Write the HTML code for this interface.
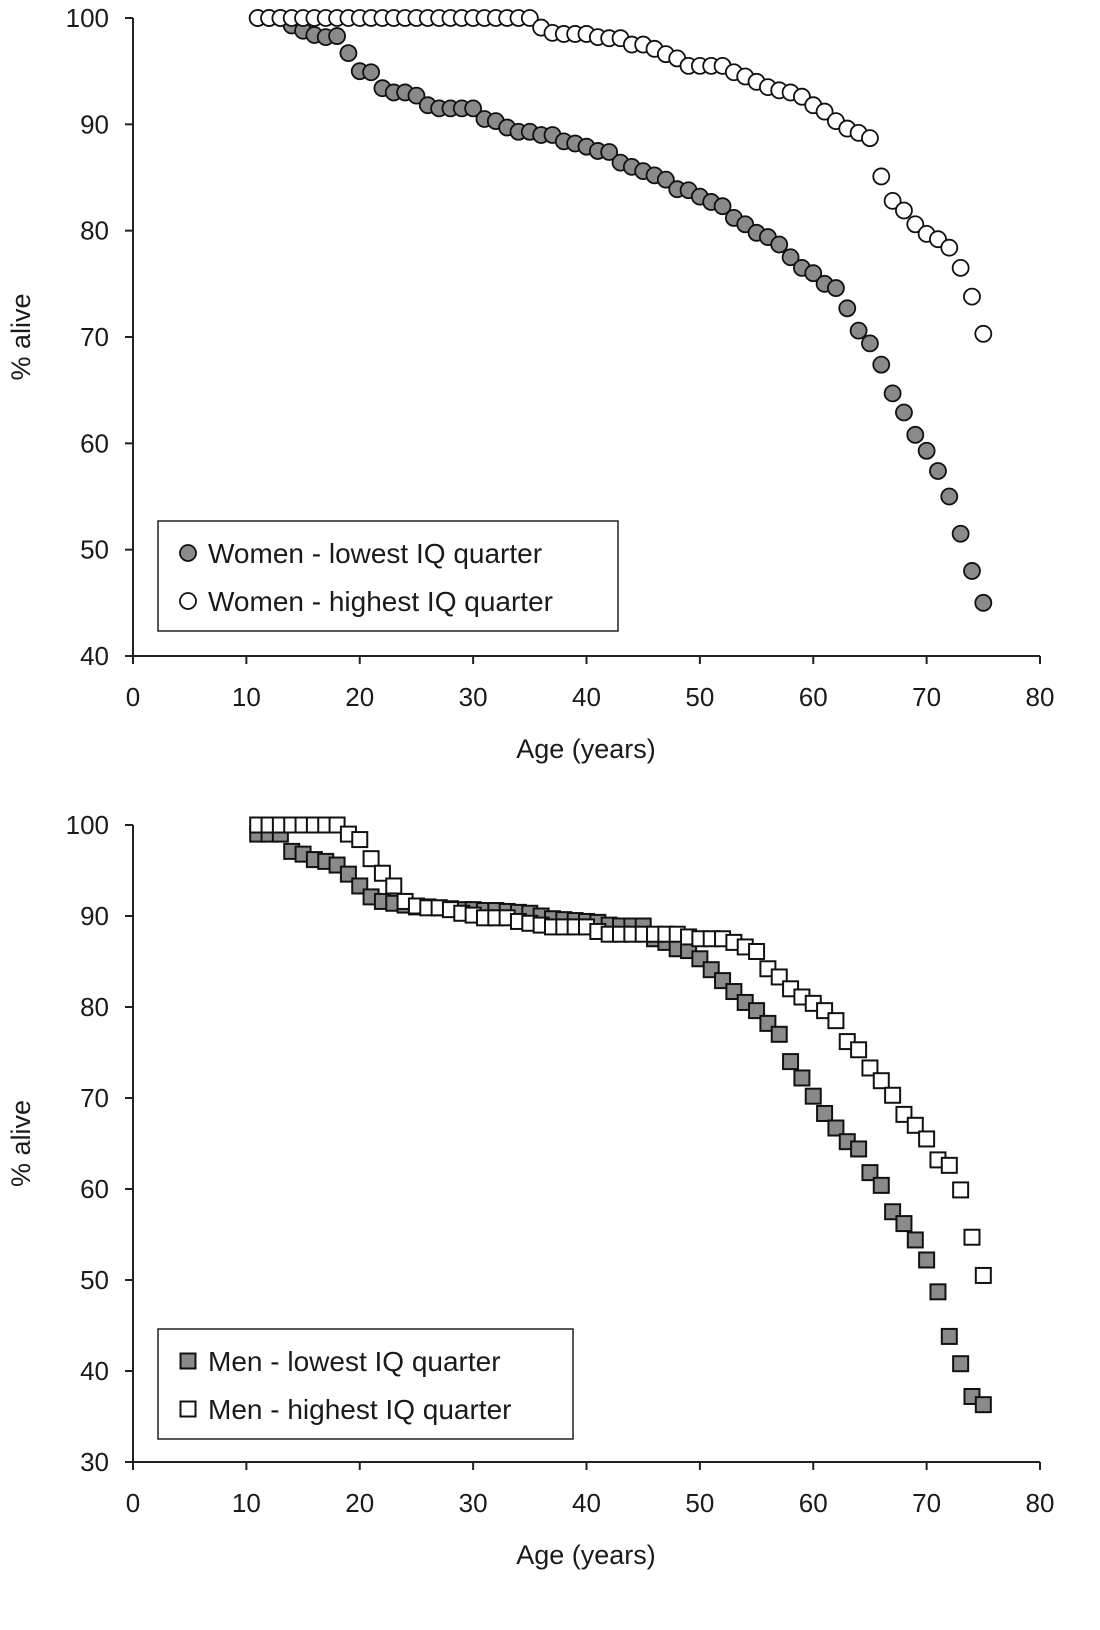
<!DOCTYPE html>
<html><head><meta charset="utf-8">
<style>
body{margin:0;background:#fff;}
svg{display:block;font-family:"Liberation Sans",sans-serif;}
text{fill:#1a1a1a;}
</style></head>
<body>
<svg id="c" width="1100" height="1630" viewBox="0 0 1100 1630"></svg>
<script>
const ages = [];
for (let a = 11; a <= 75; a++) ages.push(a);
const womenLow = [100,100,100,99.3,98.8,98.4,98.2,98.3,96.7,95,94.9,93.4,93,93,92.7,91.8,91.5,91.5,91.5,91.5,90.5,90.3,89.7,89.3,89.3,89,89,88.4,88.2,87.9,87.5,87.4,86.4,86,85.6,85.2,84.8,83.9,83.8,83.2,82.7,82.3,81.2,80.6,79.8,79.4,78.7,77.5,76.5,76,75,74.6,72.7,70.6,69.4,67.4,64.7,62.9,60.8,59.3,57.4,55,51.5,48,45];
const womenHigh = [100,100,100,100,100,100,100,100,100,100,100,100,100,100,100,100,100,100,100,100,100,100,100,100,100,99.1,98.6,98.5,98.5,98.5,98.2,98.1,98.1,97.5,97.5,97.1,96.6,96.2,95.5,95.5,95.5,95.5,94.9,94.5,94,93.5,93.2,93,92.6,91.8,91.2,90.3,89.6,89.2,88.7,85.1,82.8,81.9,80.6,79.7,79.2,78.4,76.5,73.8,70.3];
const menLow = [99,99,99,97.1,96.8,96.2,96,95.6,94.6,93.3,92.1,91.6,91.4,91.2,91,91,90.9,90.8,90.7,90.7,90.6,90.6,90.5,90.4,90.3,90,89.7,89.6,89.5,89.4,89.3,89,88.9,88.9,88.9,87.5,87.1,86.4,86.2,85.3,84.1,82.9,81.7,80.5,79.6,78.2,77,74,72.2,70.2,68.3,66.7,65.2,64.4,61.8,60.4,57.5,56.2,54.4,52.2,48.7,43.8,40.8,37.2,36.3];
const menHigh = [100,100,100,100,100,100,100,100,99,98.4,96.3,94.7,93.3,91.6,91.1,90.9,90.9,90.7,90.3,90.1,89.8,89.8,89.8,89.4,89.2,89,88.8,88.8,88.8,88.8,88.3,88,88,88,88,88,88,88,87.7,87.5,87.5,87.5,87.1,86.6,86.1,84.2,83.3,82,81.1,80.4,79.6,78.5,76.2,75.3,73.3,71.9,70.3,68.2,67,65.5,63.2,62.6,59.9,54.7,50.5];
const xTicks = [0,10,20,30,40,50,60,70,80];
const yTicksTop = [40,50,60,70,80,90,100];
const yTicksBot = [30,40,50,60,70,80,90,100];

const svg = document.getElementById('c');
const NS = 'http://www.w3.org/2000/svg';
function mk(tag, at, parent){const e=document.createElementNS(NS,tag);for(const k in at)e.setAttribute(k,at[k]);(parent||svg).appendChild(e);return e;}

function chart(cfg){
  const g = mk('g',{});
  
  
  const X = v => cfg.x0 + (v-0)/(80-0)*(cfg.x1-cfg.x0);
  const Y = v => cfg.yb + (v-cfg.ymin)/(cfg.ymax-cfg.ymin)*(cfg.yt-cfg.yb);
  let ax = mk('line',{x1:cfg.x0,y1:cfg.yb,x2:cfg.x1,y2:cfg.yb,stroke:'#222','stroke-width':2},g);
  
  
  let ay = mk('line',{x1:cfg.x0,y1:cfg.yb,x2:cfg.x0,y2:cfg.yt,stroke:'#222','stroke-width':2},g);
  
  
  xTicks.forEach(t=>{
    mk('line',{x1:X(t),y1:cfg.yb,x2:X(t),y2:cfg.yb+8,stroke:'#222','stroke-width':2},g);
    const tx = mk('text',{x:X(t),y:cfg.yb+50,'text-anchor':'middle','font-size':26},g);
    tx.textContent=t;
    
    
  });
  cfg.yTicks.forEach(t=>{
    mk('line',{x1:cfg.x0-8,y1:Y(t),x2:cfg.x0,y2:Y(t),stroke:'#222','stroke-width':2},g);
    const tx = mk('text',{x:cfg.x0-24,y:Y(t)+9,'text-anchor':'end','font-size':26},g);
    tx.textContent=t;
    
    
  });
  const xt = mk('text',{x:586,y:cfg.yb+102,'text-anchor':'middle','font-size':27},g);
  xt.textContent='Age (years)';
  
  
  const yc=(cfg.yb+cfg.yt)/2;
  const yt = mk('text',{x:30,y:yc,'text-anchor':'middle','font-size':27,transform:`rotate(-90 30 ${yc})`},g);
  yt.textContent='% alive';
  
  
  function marker(x,y,fill,parent){
    if(cfg.shape==='circle') return mk('circle',{cx:x,cy:y,r:8,fill:fill,stroke:'#111','stroke-width':1.8},parent);
    return mk('rect',{x:x-7.5,y:y-7.5,width:15,height:15,fill:fill,stroke:'#111','stroke-width':2},parent);
  }
  cfg.series.forEach(s=>{
    const sg = mk('g',{},g);
    
    
    s.data.forEach((v,i)=>{
      const m = marker(X(ages[i]),Y(v),s.fill,sg);
      
      
    });
  });
  const lg = mk('g',{},g);
  
  
  mk('rect',{x:158,y:cfg.ly,width:cfg.lw,height:110,fill:'#fff',stroke:'#222','stroke-width':1.5},lg);
  cfg.series.forEach((s,i)=>{
    const cy = cfg.ly+32+i*48;
    marker(188,cy,s.fill,lg);
    const t = mk('text',{x:208,y:cy+10,'font-size':28},lg);
    t.textContent=s.label;
    
    
  });
}
chart({name:'women-chart',x0:133,x1:1040,yb:656,yt:18,ymin:40,ymax:100,yTicks:yTicksTop,shape:'circle',ly:521,lw:460,
  series:[{name:'women-lowest-series',data:womenLow,fill:'#8a8a8a',label:'Women - lowest IQ quarter'},
          {name:'women-highest-series',data:womenHigh,fill:'#fff',label:'Women - highest IQ quarter'}]});
chart({name:'men-chart',x0:133,x1:1040,yb:1462,yt:825,ymin:30,ymax:100,yTicks:yTicksBot,shape:'square',ly:1329,lw:415,
  series:[{name:'men-lowest-series',data:menLow,fill:'#8a8a8a',label:'Men - lowest IQ quarter'},
          {name:'men-highest-series',data:menHigh,fill:'#fff',label:'Men - highest IQ quarter'}]});
</script>
</body></html>
